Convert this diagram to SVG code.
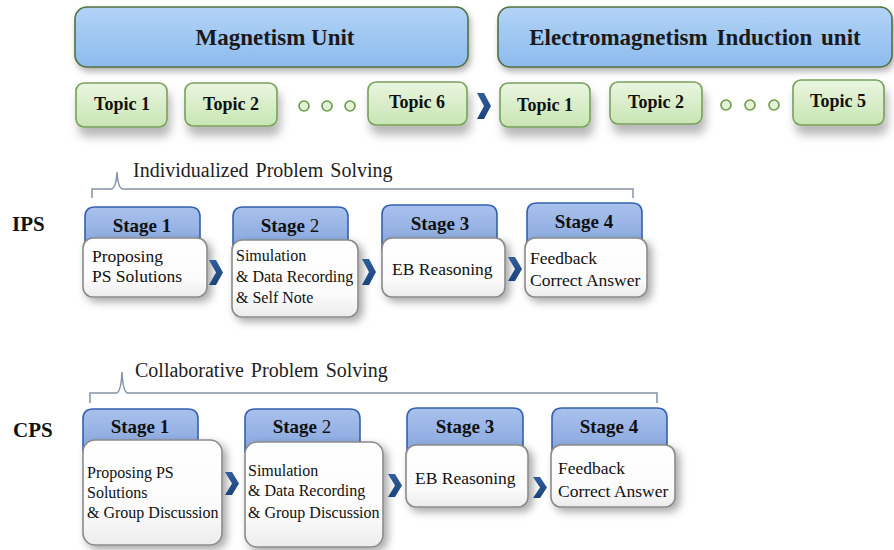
<svg xmlns="http://www.w3.org/2000/svg" width="894" height="550" viewBox="0 0 894 550" font-family="'Liberation Serif', 'DejaVu Serif', serif">
  <defs>
    <linearGradient id="gUnit" x1="0" y1="0" x2="0" y2="1">
      <stop offset="0" stop-color="#b3d4f6"/>
      <stop offset="1" stop-color="#8dbbee"/>
    </linearGradient>
    <linearGradient id="gTopic" x1="0" y1="0" x2="0" y2="1">
      <stop offset="0" stop-color="#eaf6e0"/>
      <stop offset="1" stop-color="#c8e5b3"/>
    </linearGradient>
    <linearGradient id="gHead" x1="0" y1="0" x2="0" y2="1">
      <stop offset="0" stop-color="#a9c1ec"/>
      <stop offset="1" stop-color="#86a5de"/>
    </linearGradient>
    <linearGradient id="gBody" x1="0" y1="0" x2="0" y2="1">
      <stop offset="0" stop-color="#ffffff"/>
      <stop offset="0.7" stop-color="#fbfbfb"/>
      <stop offset="1" stop-color="#ececec"/>
    </linearGradient>
    <linearGradient id="gChev" x1="0" y1="0" x2="0" y2="1">
      <stop offset="0" stop-color="#2f5d9c"/>
      <stop offset="1" stop-color="#1c447c"/>
    </linearGradient>
    <filter id="shUnit" x="-10%" y="-30%" width="120%" height="170%">
      <feDropShadow dx="2" dy="4" stdDeviation="3" flood-color="#000" flood-opacity="0.3"/>
    </filter>
    <filter id="shTopic" x="-20%" y="-30%" width="140%" height="190%">
      <feDropShadow dx="3" dy="9" stdDeviation="5" flood-color="#000" flood-opacity="0.28"/>
    </filter>
    <filter id="shBox" x="-20%" y="-20%" width="150%" height="150%">
      <feDropShadow dx="4" dy="4" stdDeviation="4" flood-color="#000" flood-opacity="0.35"/>
    </filter>
  </defs>
  <style>
    .unit { fill: url(#gUnit); stroke: #51703f; stroke-width: 1.6; }
    .topic { fill: url(#gTopic); stroke: #77a05a; stroke-width: 1.6; }
    .dot { fill: #e3f2d8; stroke: #6b9a45; stroke-width: 1.6; }
    .head { fill: url(#gHead); stroke: #3560b0; stroke-width: 1.6; }
    .body { fill: url(#gBody); stroke: #8a8a8a; stroke-width: 1.6; }
    .chev { fill: url(#gChev); }
    .brace { fill: none; stroke: #8593a6; stroke-width: 1.5; }
    text { font-family: 'Liberation Serif', 'DejaVu Serif', serif; fill: #111; }
    .tUnit { font-size: 23px; font-weight: bold; text-anchor: middle; fill: #1a1a1a; }
    .tTopic { font-size: 18px; font-weight: bold; text-anchor: middle; }
    .tHead { font-size: 19px; font-weight: bold; text-anchor: middle; }
    .tBody { font-size: 17.5px; }
    .tSm { font-size: 16px; }
    .tLabel { font-size: 21px; font-weight: bold; }
    .tBrace { font-size: 20px; word-spacing: 2px; fill: #222; }
  </style>

  <!-- unit banners -->
  <g id="unit-magnetism">
    <rect class="unit" x="75" y="7" width="393" height="60" rx="12" filter="url(#shUnit)"/>
    <text class="tUnit" x="275" y="45">Magnetism Unit</text>
  </g>
  <g id="unit-induction">
    <rect class="unit" x="498" y="7" width="394" height="60" rx="12" filter="url(#shUnit)"/>
    <text class="tUnit" x="695" y="45" word-spacing="3">Electromagnetism Induction unit</text>
  </g>

  <!-- topics of the magnetism unit -->
  <g id="m-topic1">
    <rect class="topic" x="76" y="83" width="91" height="44" rx="8" filter="url(#shTopic)"/>
    <text class="tTopic" x="122" y="110">Topic 1</text>
  </g>
  <g id="m-topic2">
    <rect class="topic" x="185" y="83" width="92" height="43" rx="8" filter="url(#shTopic)"/>
    <text class="tTopic" x="231" y="110">Topic 2</text>
  </g>
  <g id="m-dots">
    <circle class="dot" cx="304" cy="106" r="5"/>
    <circle class="dot" cx="327" cy="106" r="5"/>
    <circle class="dot" cx="350" cy="106" r="5"/>
  </g>
  <g id="m-topic6">
    <rect class="topic" x="368" y="82" width="99" height="43" rx="8" filter="url(#shTopic)"/>
    <text class="tTopic" x="417" y="108">Topic 6</text>
  </g>

  <!-- topics of the induction unit -->
  <g id="e-topic1">
    <rect class="topic" x="500" y="83" width="90" height="44" rx="8" filter="url(#shTopic)"/>
    <text class="tTopic" x="545" y="111">Topic 1</text>
  </g>
  <g id="e-topic2">
    <rect class="topic" x="610" y="82" width="92" height="42" rx="8" filter="url(#shTopic)"/>
    <text class="tTopic" x="656" y="108">Topic 2</text>
  </g>
  <g id="e-dots">
    <circle class="dot" cx="726" cy="105" r="5"/>
    <circle class="dot" cx="750" cy="105" r="5"/>
    <circle class="dot" cx="774" cy="105" r="5"/>
  </g>
  <g id="e-topic5">
    <rect class="topic" x="793" y="80" width="91" height="45" rx="8" filter="url(#shTopic)"/>
    <text class="tTopic" x="838" y="107">Topic 5</text>
  </g>

  <!-- IPS row -->
  <g id="ips-label">
    <text class="tLabel" x="12" y="231">IPS</text>
  </g>
  <g id="ips-brace">
    <path class="brace" d="M92,198 V189 H111 Q116,189 117,172 Q118,189 123,189 H633 V198"/>
    <text class="tBrace" x="133" y="177">Individualized Problem Solving</text>
  </g>
  <g id="ips-stage1">
    <path class="head" d="M85,250 V217 Q85,207 95,207 H190 Q200,207 200,217 V250 Z"/>
    <text class="tHead" x="142" y="232">Stage 1</text>
    <rect class="body" x="83" y="238" width="124" height="59" rx="10" filter="url(#shBox)"/>
    <text class="tBody" x="92" y="262">Proposing</text>
    <text class="tBody" x="92" y="282">PS Solutions</text>
  </g>
  <g id="ips-stage2">
    <path class="head" d="M233,250 V217 Q233,207 243,207 H338 Q348,207 348,217 V250 Z"/>
    <text class="tHead" x="290" y="232">Stage <tspan font-weight="normal">2</tspan></text>
    <rect class="body" x="232" y="240" width="126" height="77" rx="10" filter="url(#shBox)"/>
    <text class="tSm" x="236" y="261">Simulation</text>
    <text class="tSm" x="236" y="282">&amp; Data Recording</text>
    <text class="tSm" x="236" y="303">&amp; Self Note</text>
  </g>
  <g id="ips-stage3">
    <path class="head" d="M382,250 V215 Q382,205 392,205 H487 Q497,205 497,215 V250 Z"/>
    <text class="tHead" x="440" y="230">Stage 3</text>
    <rect class="body" x="382" y="238" width="123" height="59" rx="10" filter="url(#shBox)"/>
    <text class="tBody" x="392" y="275">EB Reasoning</text>
  </g>
  <g id="ips-stage4">
    <path class="head" d="M527,250 V213 Q527,203 537,203 H632 Q642,203 642,213 V250 Z"/>
    <text class="tHead" x="584" y="228">Stage 4</text>
    <rect class="body" x="525" y="238" width="122" height="59" rx="10" filter="url(#shBox)"/>
    <text class="tBody" x="530" y="264">Feedback</text>
    <text class="tBody" x="530" y="286">Correct Answer</text>
  </g>

  <!-- CPS row -->
  <g id="cps-label">
    <text class="tLabel" x="13" y="437" font-size="22">CPS</text>
  </g>
  <g id="cps-brace">
    <path class="brace" d="M90,403 V393 H116 Q121,393 122,372 Q123,393 128,393 H657 V403"/>
    <text class="tBrace" x="135" y="377">Collaborative Problem Solving</text>
  </g>
  <g id="cps-stage1">
    <path class="head" d="M83,452 V419 Q83,409 93,409 H188 Q198,409 198,419 V452 Z"/>
    <text class="tHead" x="140" y="433">Stage 1</text>
    <rect class="body" x="83" y="440" width="139" height="105" rx="12" filter="url(#shBox)"/>
    <text class="tSm" x="87" y="478">Proposing PS</text>
    <text class="tSm" x="87" y="498">Solutions</text>
    <text class="tSm" x="87" y="518">&amp; Group Discussion</text>
  </g>
  <g id="cps-stage2">
    <path class="head" d="M245,452 V419 Q245,409 255,409 H350 Q360,409 360,419 V452 Z"/>
    <text class="tHead" x="302" y="433">Stage <tspan font-weight="normal">2</tspan></text>
    <rect class="body" x="245" y="442" width="138" height="105" rx="12" filter="url(#shBox)"/>
    <text class="tSm" x="248" y="476">Simulation</text>
    <text class="tSm" x="248" y="496">&amp; Data Recording</text>
    <text class="tSm" x="248" y="518">&amp; Group Discussion</text>
  </g>
  <g id="cps-stage3">
    <path class="head" d="M407,455 V418 Q407,408 417,408 H513 Q523,408 523,418 V455 Z"/>
    <text class="tHead" x="465" y="433">Stage 3</text>
    <rect class="body" x="406" y="445" width="122" height="62" rx="10" filter="url(#shBox)"/>
    <text class="tBody" x="415" y="484">EB Reasoning</text>
  </g>
  <g id="cps-stage4">
    <path class="head" d="M552,455 V418 Q552,408 562,408 H657 Q667,408 667,418 V455 Z"/>
    <text class="tHead" x="609" y="433">Stage 4</text>
    <rect class="body" x="551" y="445" width="124" height="62" rx="10" filter="url(#shBox)"/>
    <text class="tBody" x="558" y="474">Feedback</text>
    <text class="tBody" x="558" y="497">Correct Answer</text>
  </g>

  <!-- connectors: chevrons -->
  <g id="connectors">
    <polygon class="chev" points="477,93 484,93 491,106 484,119 477,119 484,106"/>
    <polygon class="chev" points="209,260 216,260 223,272.5 216,285 209,285 216,272.5"/>
    <polygon class="chev" points="362,259 369,259 376,272 369,285 362,285 369,272"/>
    <polygon class="chev" points="508,257 515,257 522,269 515,281 508,281 515,269"/>
    <polygon class="chev" points="225,472 232,472 239,483.5 232,495 225,495 232,483.5"/>
    <polygon class="chev" points="388,474 395,474 402,485.5 395,497 388,497 395,485.5"/>
    <polygon class="chev" points="533,477 540,477 547,487.5 540,498 533,498 540,487.5"/>
  </g>
</svg>
